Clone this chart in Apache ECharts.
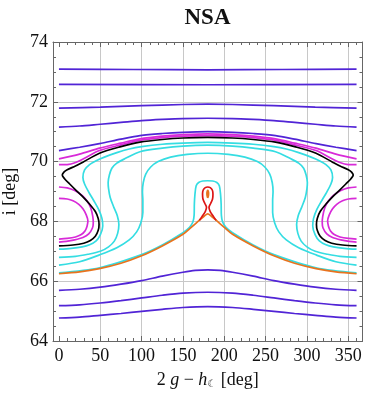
<!DOCTYPE html>
<html>
<head>
<meta charset="utf-8">
<script src="https://cdn.jsdelivr.net/npm/echarts@6/dist/echarts.min.js"></script>
<style>
  html, body { margin: 0; padding: 0; background: #fff; }
  #chart { width: 376px; height: 400px; }
</style>
</head>
<body>
<div id="chart"></div>
<script>
// tick positions
const xMajor = [0, 50, 100, 150, 200, 250, 300, 350];
const xMinor = [0, 10, 20, 30, 40, 60, 70, 80, 90, 110, 120, 130, 140, 160, 170, 180, 190,
  210, 220, 230, 240, 260, 270, 280, 290, 310, 320, 330, 340, 360];
const xGrid = [50, 100, 150, 200, 250, 300, 350];

// contour lines, [2g - h, i]
const blueTop1 = [[0,73.09],[90,73.08],[180,73.07],[270,73.08],[360,73.09]];
const blueTop2 = [[0,72.58],[180,72.57],[360,72.58]];
const blueTop3 = [[0,71.79],[50,71.82],[100,71.87],[150,71.91],[180,71.92],[210,71.91],[260,71.87],[310,71.82],[360,71.79]];
const blueTop4 = [[0,71.15],[25,71.19],[50,71.25],[75,71.31],[100,71.37],[125,71.41],[150,71.44],[180,71.45],
  [210,71.44],[235,71.41],[260,71.37],[285,71.31],[310,71.25],[335,71.19],[360,71.15]];
const blueTop5 = [[0,70.37],[25,70.48],[49,70.6],[75,70.75],[98,70.87],[125,70.94],[150,70.98],[180,71.0],
  [210,70.98],[235,70.94],[262,70.87],[285,70.75],[311,70.6],[335,70.48],[360,70.37]];

const magentaTop1 = [[0,70.09],[25,70.25],[49,70.45],[75,70.62],[98,70.76],[125,70.85],[150,70.9],[180,70.93],
  [210,70.9],[235,70.85],[262,70.76],[285,70.62],[311,70.45],[335,70.25],[360,70.09]];
const magentaTop2 = [[0,69.9],[12,69.91],[25,70.03],[49,70.37],[75,70.56],[98,70.71],[125,70.8],[150,70.85],[180,70.87],
  [210,70.85],[235,70.8],[262,70.71],[285,70.56],[311,70.37],[335,70.03],[348,69.91],[360,69.9]];

const blackLine = [[0,67.18],[17,67.21],[30,67.27],[38,67.36],[44,67.5],[47.5,67.7],[48.5,67.9],[47.5,68.1],[44,68.33],
  [37,68.58],[29,68.82],[21,69.03],[13,69.25],[7,69.42],[4,69.55],[6,69.65],[10,69.73],[20,69.85],[29,69.98],[49,70.28],
  [75,70.5],[98,70.65],[125,70.74],[150,70.79],[180,70.81],[210,70.79],[235,70.74],[262,70.65],[285,70.5],[311,70.28],
  [331,69.98],[340,69.85],[350,69.73],[354,69.65],[356,69.55],[353,69.42],[347,69.25],[339,69.03],[331,68.82],[323,68.58],
  [316,68.33],[312.5,68.1],[311.5,67.9],[312.5,67.7],[316,67.5],[322,67.36],[330,67.27],[343,67.21],[360,67.18]];

const magentaLobeL1 = [[0,69.15],[10,69.12],[19,69.03],[28,68.87],[34,68.68],[38.5,68.45],[41,68.15],[41.5,67.95],
  [40.5,67.78],[36,67.58],[29,67.46],[19,67.38],[9,67.33],[0,67.31]];
const magentaLobeL2 = [[0,68.77],[10,68.75],[17,68.69],[24,68.57],[29,68.42],[33,68.22],[35,68.02],[34,67.84],
  [31.5,67.68],[27,67.56],[20,67.48],[10,67.43],[0,67.41]];
const magentaLobeR1 = [[360,69.15],[350,69.12],[341,69.03],[332,68.87],[326,68.68],[321.5,68.45],[319,68.15],[318.5,67.95],
  [319.5,67.78],[324,67.58],[331,67.46],[341,67.38],[351,67.33],[360,67.31]];
const magentaLobeR2 = [[360,68.77],[350,68.75],[343,68.69],[336,68.57],[331,68.42],[327,68.22],[325,68.02],[326,67.84],
  [328.5,67.68],[333,67.56],[340,67.48],[350,67.43],[360,67.41]];

const cyanA = [[0,67.07],[15,67.1],[28,67.15],[37,67.22],[45,67.35],[50,67.55],[53,67.85],[52,68.1],[48,68.4],[42,68.7],
  [36,68.98],[31,69.25],[29,69.47],[31,69.72],[37,69.9],[45,70.03],[55,70.15],[70,70.3],[85,70.42],[100,70.5],[125,70.58],
  [150,70.62],[180,70.64],[210,70.62],[235,70.58],[260,70.5],[275,70.42],[290,70.3],[305,70.15],[315,70.03],[323,69.9],
  [329,69.72],[331,69.47],[329,69.25],[324,68.98],[318,68.7],[312,68.4],[308,68.1],[307,67.85],[310,67.55],[315,67.35],
  [323,67.22],[332,67.15],[345,67.1],[360,67.07]];
const cyanB = [[0,66.8],[20,66.83],[35,66.9],[50,67.0],[60,67.15],[67,67.34],[71,67.6],[72.5,67.9],[70.5,68.2],[66,68.5],
  [62,68.8],[60,69.1],[59.5,69.3],[61,69.55],[64,69.78],[70,69.95],[80,70.1],[98,70.33],[125,70.45],[150,70.52],[180,70.55],
  [210,70.52],[235,70.45],[262,70.33],[280,70.1],[290,69.95],[296,69.78],[299,69.55],[300.5,69.3],[300,69.1],[298,68.8],
  [294,68.5],[289.5,68.2],[287.5,67.9],[289,67.6],[293,67.34],[300,67.15],[310,67.0],[325,66.9],[340,66.83],[360,66.8]];
const cyanC = [[0,66.54],[25,66.65],[49,66.88],[70,67.12],[85,67.38],[94,67.65],[99,67.95],[101.5,68.3],[101.5,68.7],
  [101,69.0],[102,69.3],[105,69.58],[111,69.82],[120,70.0],[135,70.15],[155,70.24],[180,70.28],[205,70.24],[225,70.15],
  [240,70.0],[249,69.82],[255,69.58],[258,69.3],[259,69.0],[258.5,68.7],[258.5,68.3],[261,67.95],[266,67.65],[275,67.38],
  [290,67.12],[311,66.88],[335,66.65],[360,66.54]];
const cyanKeyhole = [[0,66.28],[49,66.45],[100,66.89],[125,67.21],[150,67.62],[158,67.8],[162,67.98],[163.5,68.2],
  [163.8,68.58],[164.5,68.9],[166,69.19],[169,69.3],[174,69.35],[180,69.36],[186,69.35],[191,69.3],[194,69.19],
  [195.5,68.9],[196.2,68.58],[196.5,68.2],[198,67.98],[202,67.8],[210,67.62],[235,67.21],[260,66.89],[311,66.45],[360,66.28]];

const orangeLine = [[0,66.25],[25,66.31],[49,66.42],[75,66.6],[100,66.85],[125,67.18],[150,67.57],[160,67.8],[170,68.04],
  [176,68.18],[180,68.25],[184,68.18],[190,68.04],[200,67.8],[210,67.57],[235,67.18],[260,66.85],[285,66.6],[311,66.42],
  [335,66.31],[360,66.25]];
const redLoop = [[170,68.04],[173,68.16],[177,68.33],[178.5,68.47],[176.5,68.6],[174.2,68.75],[173.7,68.92],[174.5,69.05],
  [177,69.13],[180,69.15],[183,69.13],[185.5,69.05],[186.3,68.92],[185.8,68.75],[183.5,68.6],[181.5,68.47],[183,68.33],
  [187,68.16],[190,68.04]];
const orangeDrop = [[180,68.78],[180.8,68.86],[181,68.95],[180.5,69.02],[180,69.04],[179.5,69.02],[179,68.95],[179.2,68.86],[180,68.78]];

const blueBot1 = [[0,65.69],[25,65.73],[50,65.8],[75,65.9],[100,66.02],[125,66.17],[150,66.3],[165,66.36],[180,66.38],
  [195,66.36],[210,66.3],[235,66.17],[260,66.02],[285,65.9],[310,65.8],[335,65.73],[360,65.69]];
const blueBot2 = [[0,65.18],[25,65.21],[50,65.27],[75,65.35],[100,65.44],[125,65.53],[150,65.6],[180,65.63],
  [210,65.6],[235,65.53],[260,65.44],[285,65.35],[310,65.27],[335,65.21],[360,65.18]];
const blueBot3 = [[0,64.77],[25,64.8],[50,64.86],[75,64.92],[100,64.99],[125,65.06],[150,65.12],[180,65.15],
  [210,65.12],[235,65.06],[260,64.99],[285,64.92],[310,64.86],[335,64.8],[360,64.77]];

const blue = '#5124d6';
const magenta = '#d82ad8';
const cyan = '#35dde2';
const orange = '#e8731e';
const red = '#dd1515';

const curves = [
  [blueTop1, blue], [blueTop2, blue], [blueTop3, blue], [blueTop4, blue], [blueTop5, blue],
  [magentaTop1, magenta], [magentaTop2, magenta],
  [magentaLobeL1, magenta], [magentaLobeL2, magenta], [magentaLobeR1, magenta], [magentaLobeR2, magenta],
  [cyanA, cyan], [cyanB, cyan], [cyanC, cyan], [cyanKeyhole, cyan],
  [blackLine, '#000'],
  [orangeLine, orange], [redLoop, red], [orangeDrop, orange],
  [blueBot1, blue], [blueBot2, blue], [blueBot3, blue]
];

const serif = 'Liberation Serif';
const frame = '#666';
const gridColor = '#c8c8c8';

const chart = echarts.init(document.getElementById('chart'));

const xBase = { type: 'value', min: -7.2, max: 367.2, gridIndex: 0 };
const noLine = { show: false };

chart.setOption({
  animation: false,
  graphic: [{
    type: 'text', x: 207.5, y: 18,
    style: { text: 'NSA', font: 'bold 23px "Liberation Serif"', fill: '#111', textAlign: 'center', textVerticalAlign: 'middle' }
  }],
  grid: { left: 53, top: 42, width: 309.5, height: 299, containLabel: false, outerBoundsMode: 'none' },
  xAxis: [
    Object.assign({}, xBase, {
      position: 'bottom',
      axisLine: { show: true, onZero: false, lineStyle: { color: frame } },
      axisTick: { inside: true, length: 5, customValues: xMajor, lineStyle: { color: frame } },
      axisLabel: { customValues: xMajor, margin: 6, fontFamily: serif, fontSize: 18, color: '#111' },
      splitLine: noLine,
      name: '{n|2 }{i|g}{n| − }{i|h}{s|☾}{n| [deg]}',
      nameLocation: 'middle',
      nameGap: 30,
      nameTextStyle: {
        fontFamily: serif, fontSize: 18, color: '#111',
        rich: {
          n: { fontFamily: serif, fontSize: 18, color: '#111' },
          i: { fontFamily: serif, fontSize: 18, fontStyle: 'italic', color: '#111' },
          s: { fontFamily: 'DejaVu Sans', fontSize: 10, color: '#111', verticalAlign: 'bottom', padding: [8, 0, 0, 0] }
        }
      }
    }),
    Object.assign({}, xBase, {
      position: 'top',
      axisLine: { show: true, onZero: false, lineStyle: { color: frame } },
      axisTick: { inside: true, length: 5, customValues: xMajor, lineStyle: { color: frame } },
      axisLabel: { show: false },
      splitLine: noLine
    }),
    Object.assign({}, xBase, {
      position: 'bottom',
      axisLine: { show: false, onZero: false },
      axisTick: { inside: true, length: 3, customValues: xMinor, lineStyle: { color: frame } },
      axisLabel: { show: false },
      splitLine: noLine
    }),
    Object.assign({}, xBase, {
      position: 'top',
      axisLine: { show: false, onZero: false },
      axisTick: { inside: true, length: 3, customValues: xMinor, lineStyle: { color: frame } },
      axisLabel: { show: false },
      splitLine: noLine
    }),
    Object.assign({}, xBase, {
      position: 'bottom',
      axisLine: { show: false, onZero: false },
      axisTick: { show: false, customValues: xGrid },
      axisLabel: { show: false },
      splitLine: { show: true, lineStyle: { color: gridColor, width: 1 } }
    })
  ],
  yAxis: [
    {
      type: 'value', min: 64, max: 74, interval: 2, position: 'left',
      axisLine: { show: true, onZero: false, lineStyle: { color: frame } },
      axisTick: { inside: true, length: 5, lineStyle: { color: frame } },
      minorTick: { show: true, splitNumber: 4, length: 3, lineStyle: { color: frame } },
      axisLabel: { margin: 5, fontFamily: serif, fontSize: 18, color: '#111' },
      splitLine: { show: true, lineStyle: { color: gridColor, width: 1 } },
      name: 'i [deg]',
      nameLocation: 'middle',
      nameGap: 32,
      nameRotate: 90,
      nameTextStyle: { fontFamily: serif, fontSize: 18, color: '#111' }
    },
    {
      type: 'value', min: 64, max: 74, interval: 2, position: 'right',
      axisLine: { show: true, onZero: false, lineStyle: { color: frame } },
      axisTick: { inside: true, length: 5, lineStyle: { color: frame } },
      minorTick: { show: true, splitNumber: 4, length: 3, lineStyle: { color: frame } },
      axisLabel: { show: false },
      splitLine: noLine
    }
  ],
  series: curves.map(([pts, color]) => ({
    type: 'line',
    xAxisIndex: 0,
    yAxisIndex: 0,
    data: pts,
    symbol: 'none',
    smooth: 0.3,
    silent: true,
    lineStyle: { color: color, width: 1.7 }
  }))
});
</script>
</body>
</html>
